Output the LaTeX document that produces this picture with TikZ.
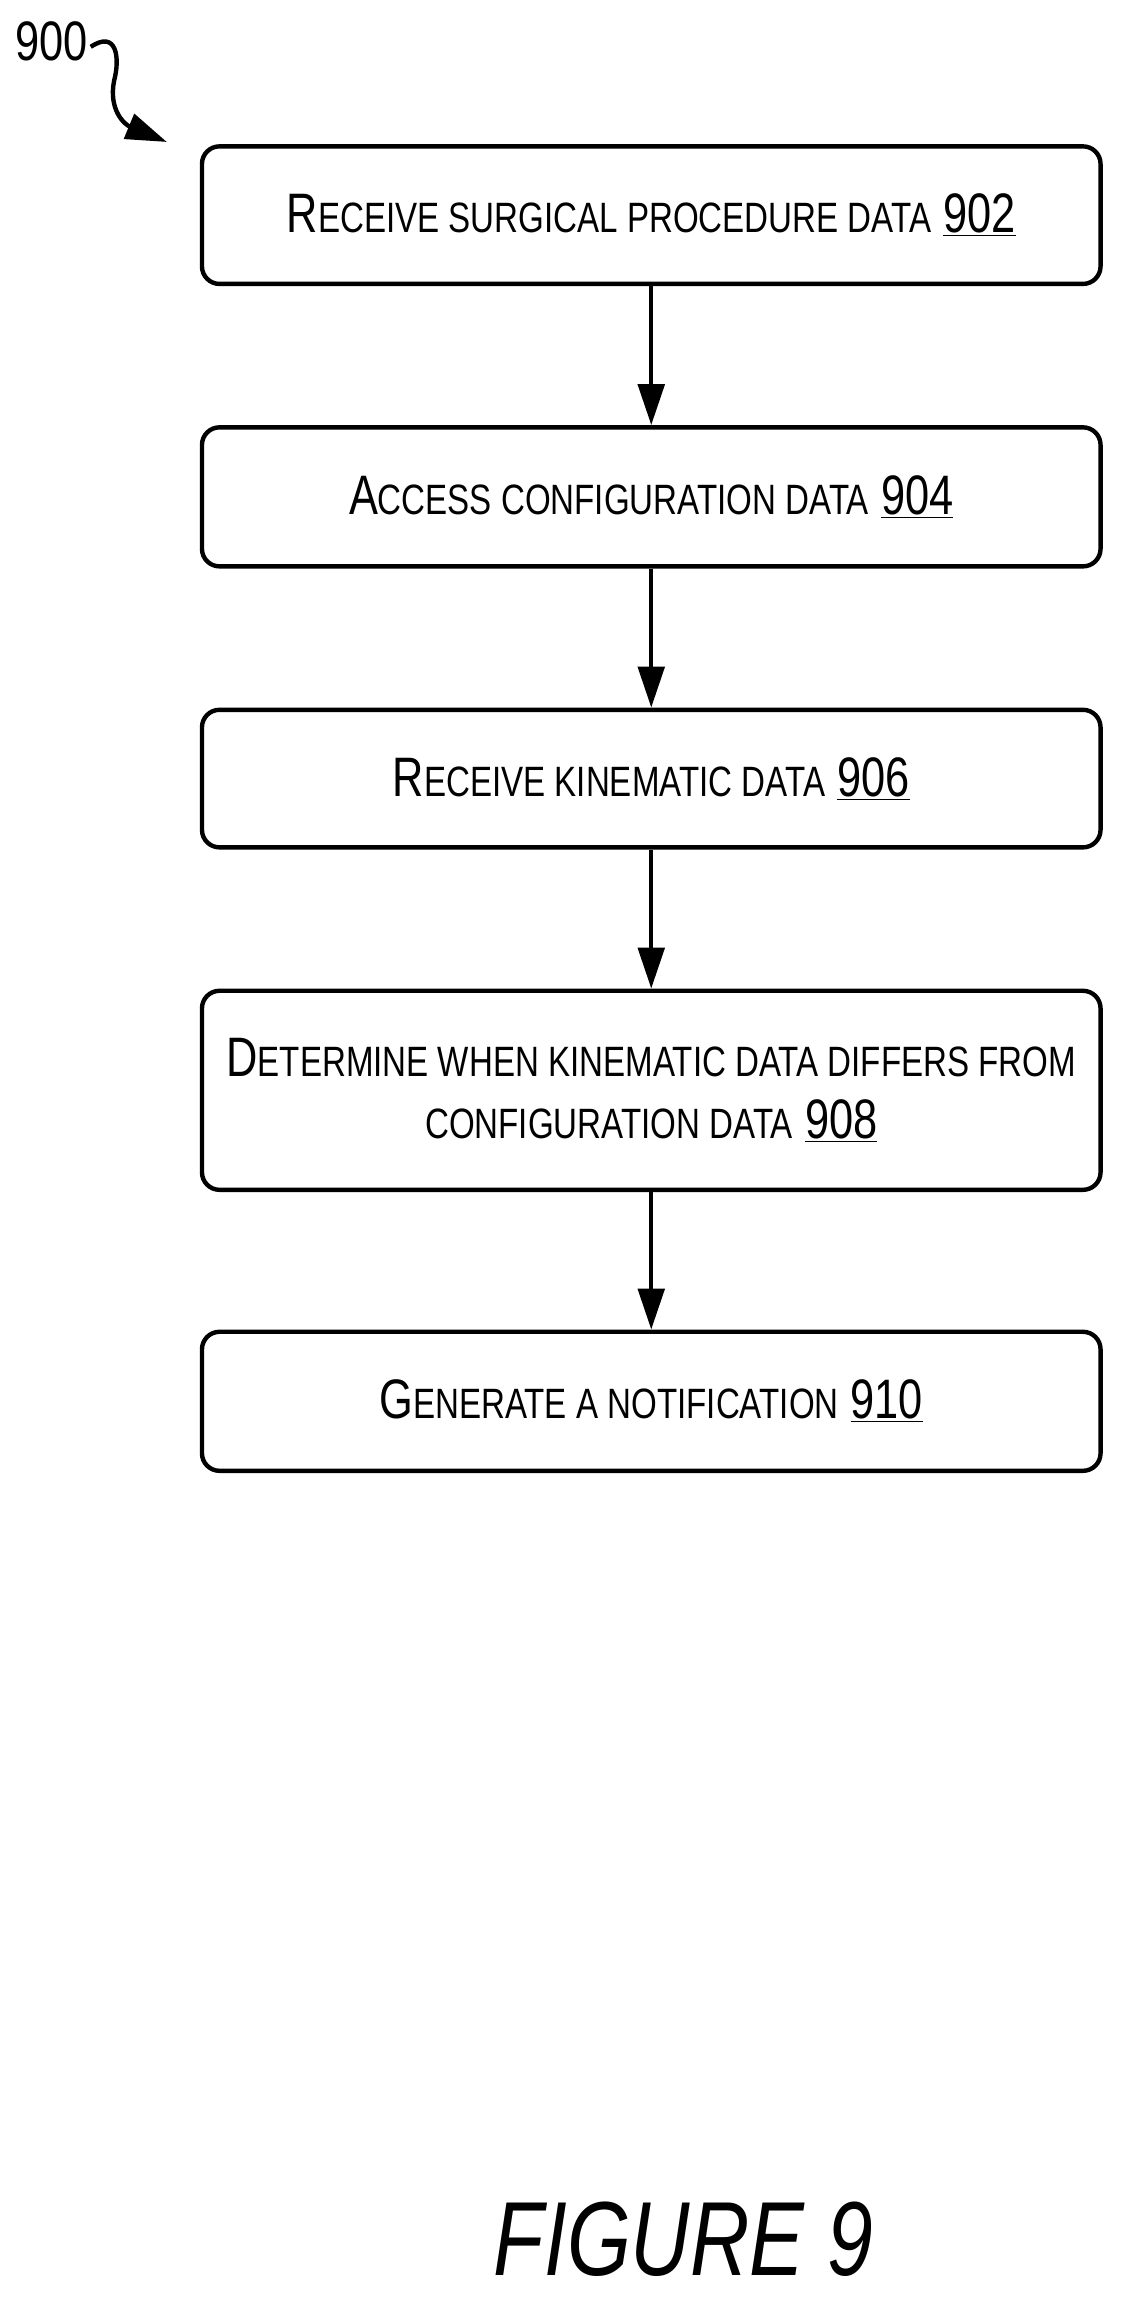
\documentclass[tikz,border=0pt]{standalone}
\usepackage{fontspec}
\setmainfont[FakeStretch=0.78]{Liberation Sans}
\usetikzlibrary{arrows.meta}
\newcommand{\bg}[1]{{\fontsize{38}{44}\selectfont #1}}
\newcommand{\sm}[1]{{\fontsize{29}{44}\selectfont #1}}
\newcommand{\num}[1]{{\fontsize{38}{44}\selectfont\underline{#1}}}
\begin{document}
\begin{tikzpicture}[x=1pt,y=-1pt,
  box/.style={draw,line width=3pt,rounded corners=12pt,minimum width=614pt,align=center,inner sep=0pt,font=\fontsize{38}{42}\selectfont},
  arr/.style={line width=3pt,-{Triangle[length=28pt,width=18pt]}}]
\useasboundingbox (0,0) rectangle (770,1575);
\node[box,minimum height=94pt] (b1) at (445,147) {\bg{R}\sm{ECEIVE SURGICAL PROCEDURE DATA}\ \num{902}};
\node[box,minimum height=95pt] (b2) at (445,339.5) {\bg{A}\sm{CCESS CONFIGURATION DATA}\ \num{904}};
\node[box,minimum height=94pt] (b3) at (445,532) {\bg{R}\sm{ECEIVE KINEMATIC DATA}\ \num{906}};
\node[box,minimum height=136pt] (b4) at (445,745) {\bg{D}\sm{ETERMINE WHEN KINEMATIC DATA DIFFERS FROM}\\\sm{CONFIGURATION DATA}\ \num{908}};
\node[box,minimum height=95pt] (b5) at (445,957.5) {\bg{G}\sm{ENERATE A NOTIFICATION}\ \num{910}};
\draw[arr] (b1) -- (b2);
\draw[arr] (b2) -- (b3);
\draw[arr] (b3) -- (b4);
\draw[arr] (b4) -- (b5);
\node (l900) at (35,28) {\bg{900}};
\coordinate (c1) at (62,32);
\coordinate (c2) at (114,97);
\draw[line width=3pt,-{Triangle[length=28pt,width=18pt]}] (c1) .. controls (80,20) and (82,40) .. (78,55) .. controls (74,75) and (85,85) .. (c2);
\node[font=\fontsize{72}{76}\selectfont\itshape] (fig) at (467,1530) {FIGURE 9};
\end{tikzpicture}
\end{document}
